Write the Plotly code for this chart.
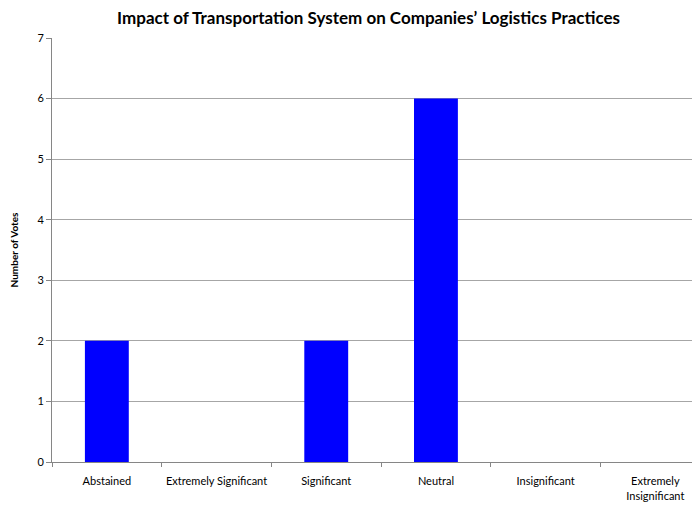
import plotly.graph_objects as go

categories = ["Abstained", "Extremely Significant", "Significant", "Neutral",
              "Insignificant", "Extremely<br>Insignificant"]
votes = [2, 0, 2, 6, 0, 0]

# the page body adds an 8px margin, so the figure is shifted to fit the window
fig = go.Figure()
fig.add_trace(go.Bar(x=categories, y=votes, marker=dict(color="#0000FF", line=dict(width=0))))

fig.update_layout(
    width=690, height=498,
    margin=dict(l=44, r=0, t=30, b=44, autoexpand=False),
    paper_bgcolor="white", plot_bgcolor="white",
    font=dict(family="Lato, Open Sans, sans-serif", size=11, color="black"),
    title=dict(text="<b>Impact of Transportation System on Companies’ Logistics Practices</b>",
               x=0.49, xanchor="center", xref="paper", y=0.979, yanchor="middle", yref="container",
               font=dict(size=17, color="black"), automargin=False),
    bargap=0.6,
    showlegend=False,
)
fig.update_xaxes(
    type="category", range=[-0.5, 5.389], tickson="boundaries",
    ticks="outside", ticklen=4, tickcolor="#868686",
    showline=True, linecolor="#868686", linewidth=1,
    showgrid=False, tickangle=0, ticklabelstandoff=9,
    tickfont=dict(size=11), automargin=False,
)
fig.update_yaxes(
    range=[0, 7], dtick=1, ticks="outside", ticklen=5, tickcolor="#868686",
    showline=True, linecolor="#868686", linewidth=1,
    showgrid=True, gridcolor="#a6a6a6", gridwidth=1, zeroline=False,
    title=dict(text="<b>Number of Votes</b>", font=dict(size=10), standoff=20),
    tickfont=dict(size=11), automargin=False,
)

fig.write_html("out.html")
